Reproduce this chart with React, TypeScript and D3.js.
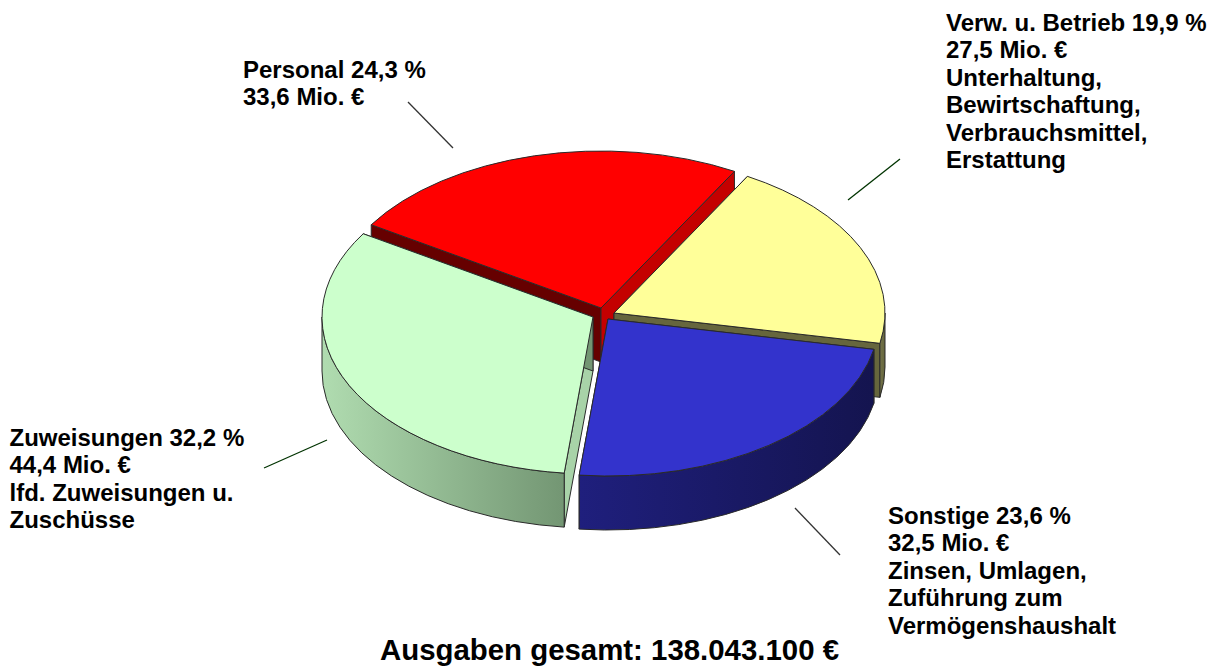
import React from "react";
import * as d3 from "d3";

const labels = ["Verw. u. Betrieb", "Sonstige", "Zuweisungen", "Personal"];
const shares = [19.9, 23.6, 32.2, 24.3];
const topColors = ["#ffff99", "#3333cc", "#ccffcc", "#ff0000"];
const wallLight = ["#73734a", "#1f1f7d", "#b0dcb0", "#990000"];
const wallDark = ["#66663d", "#14144f", "#739673", "#660000"];
// colour of the flat cut faces at the start and end angle of each slice
const cutStart = ["#66663d", "#14144f", "#a8d3a8", "#660000"];
const cutEnd = ["#66663d", "#14144f", "#739673", "#c40000"];
// explode offset of each slice, in px
const offsetX = [10, 4, -11, -3];
const offsetY = [-5, 1, -1, -10];

const calloutText = [
  ["Verw. u. Betrieb 19,9 %", "27,5 Mio. €", "Unterhaltung,", "Bewirtschaftung,", "Verbrauchsmittel,", "Erstattung"],
  ["Sonstige 23,6 %", "32,5 Mio. €", "Zinsen, Umlagen,", "Zuführung zum", "Vermögenshaushalt"],
  ["Zuweisungen 32,2 %", "44,4 Mio. €", "lfd. Zuweisungen u.", "Zuschüsse"],
  ["Personal 24,3 %", "33,6 Mio. €"],
];
const calloutX = [946, 888, 9.5, 243];
const calloutY = [31, 524, 446, 78];
const leaders = [
  { x1: 848, y1: 200, x2: 900, y2: 159, c: "#003300" },
  { x1: 795, y1: 508, x2: 840, y2: 555, c: "#333333" },
  { x1: 264, y1: 468, x2: 327, y2: 440, c: "#003300" },
  { x1: 408, y1: 102, x2: 453, y2: 148, c: "#333333" },
];
const total = "Ausgaben gesamt: 138.043.100 €";

const cx = 604;
const cy = 318;
const rx = 271;
const ry = 157;
const depth = 54;
const startDeg = 29.5;

const pie = d3.pie<number>().sort(null).startAngle((startDeg * Math.PI) / 180).endAngle(((startDeg + 360) * Math.PI) / 180);
const slices = pie(shares);

// angle is clockwise from 12 o'clock, like d3.arc
const px = (a: number) => rx * Math.sin(a);
const py = (a: number) => -ry * Math.cos(a);

function svgArc(a0: number, a1: number, sweep: number, dy = 0) {
  const large = Math.abs(a1 - a0) > Math.PI ? 1 : 0;
  return `A${rx},${ry} 0 ${large} ${sweep} ${px(a1)},${py(a1) + dy}`;
}

function topD(s: d3.PieArcDatum<number>) {
  return `M0,0L${px(s.startAngle)},${py(s.startAngle)}${svgArc(s.startAngle, s.endAngle, 1)}Z`;
}

// outer wall: only the part of the rim that faces the viewer (90deg..270deg)
function wallD(s: d3.PieArcDatum<number>) {
  const lo = Math.max(s.startAngle, Math.PI / 2);
  const hi = Math.min(s.endAngle, (3 * Math.PI) / 2);
  if (hi <= lo) return null;
  return `M${px(lo)},${py(lo)}${svgArc(lo, hi, 1)}L${px(hi)},${py(hi) + depth}${svgArc(hi, lo, 0, depth)}Z`;
}

function radialD(a: number) {
  return `M0,0L${px(a)},${py(a)}L${px(a)},${py(a) + depth}L0,${depth}Z`;
}

// paint back slices first
const drawOrder = [3, 0, 2, 1];

export default function App() {
  const stroke = "#2a2a2a";
  return (
    <svg width={1220} height={670} style={{ position: "absolute", left: 0, top: 0, fontFamily: "Liberation Sans, Arial, sans-serif" }}>
      <defs>
        {slices.map((s, i) => (
          <linearGradient key={i} id={`wall${i}`} x1={0} x2={1} y1={0} y2={0}>
            <stop offset="0%" stopColor={wallLight[i]} />
            <stop offset="100%" stopColor={wallDark[i]} />
          </linearGradient>
        ))}
      </defs>
      {drawOrder.map((i) => {
        const s = slices[i];
        const wall = wallD(s);
        return (
          <g key={i} transform={`translate(${cx + offsetX[i]},${cy + offsetY[i]})`} stroke={stroke} strokeWidth={1} strokeLinejoin="round">
            <path d={radialD(s.startAngle)} fill={cutStart[i]} />
            <path d={radialD(s.endAngle)} fill={cutEnd[i]} />
            {wall && <path d={wall} fill={`url(#wall${i})`} />}
            <path d={topD(s)} fill={topColors[i]} />
          </g>
        );
      })}
      {leaders.map((l, i) => (
        <line key={i} x1={l.x1} y1={l.y1} x2={l.x2} y2={l.y2} stroke={l.c} strokeWidth={1.3} />
      ))}
      {calloutText.map((lines, i) => (
        <text key={labels[i]} x={calloutX[i]} y={calloutY[i]} fontSize={24} fontWeight="bold" fill="#000">
          {lines.map((t, j) => (
            <tspan key={j} x={calloutX[i]} y={calloutY[i] + j * 27.4}>{t}</tspan>
          ))}
        </text>
      ))}
      <text x={609.5} y={660} textAnchor="middle" fontSize={29.4} fontWeight="bold" fill="#000">{total}</text>
    </svg>
  );
}
